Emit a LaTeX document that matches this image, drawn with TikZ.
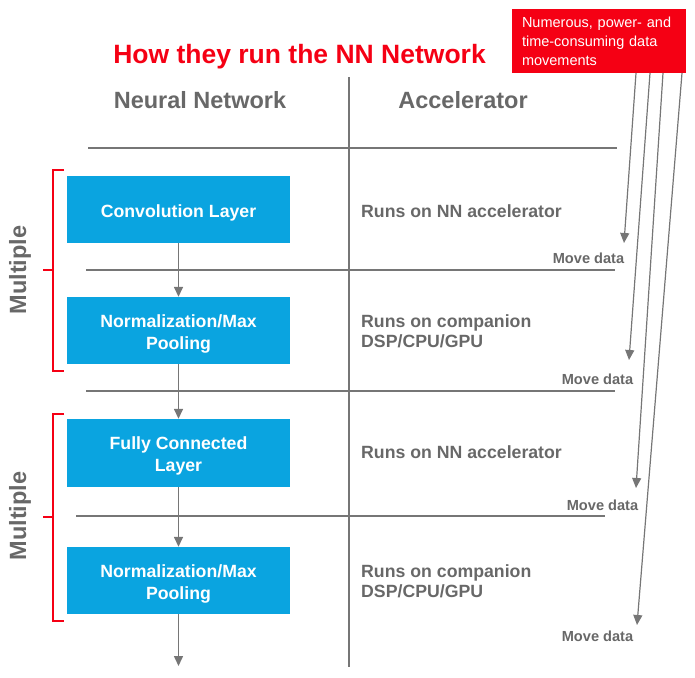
\documentclass[tikz,border=0pt]{standalone}
\usepackage{fontspec}
\setmainfont{Liberation Sans}
\usetikzlibrary{arrows.meta}
\definecolor{nnblue}{RGB}{10,164,224}
\definecolor{nnred}{RGB}{245,0,20}
\definecolor{nngray}{RGB}{104,104,104}
\definecolor{linegray}{RGB}{118,118,118}
\begin{document}
\begin{tikzpicture}[x=1pt,y=-1pt,
  layerbox/.style={fill=nnblue, minimum width=223pt, minimum height=67pt, inner sep=0pt},
  boxtext/.style={inner sep=0pt, text=white, font=\fontsize{17.7}{22}\selectfont\bfseries, align=center},
  runtext/.style={anchor=west, inner sep=0pt, text=nngray,
    font=\fontsize{17.7}{20}\selectfont\bfseries, align=left},
  head/.style={inner sep=0pt, text=nngray, font=\fontsize{23.5}{28}\selectfont\bfseries},
  movetext/.style={inner sep=0pt, text=nngray, font=\fontsize{14.6}{17}\selectfont\bfseries},
  multtext/.style={inner sep=0pt, text=nngray, rotate=90, font=\fontsize{23.5}{28}\selectfont\bfseries},
  sep/.style={draw=linegray, line width=1.5pt},
  flow/.style={draw=linegray, line width=1.5pt, -{Triangle[length=10pt,width=9pt]}},
  datamove/.style={draw=linegray, line width=1.2pt, -{Triangle[length=10pt,width=9pt]}},
  brack/.style={draw=nnred, line width=1.4pt}
]
\useasboundingbox (0,0) rectangle (695,677);

% title and note
\node[inner sep=0pt, text=nnred, font=\fontsize{26.5}{32}\selectfont\bfseries] (title) at (299.5,57) {How they run the NN Network};
\node[fill=nnred, minimum width=174pt, minimum height=64pt, text width=154pt, inner xsep=10pt, inner ysep=0pt,
  align=left, text=white, font=\fontsize{14.5}{19}\selectfont] (note) at (599,41)
  {Numerous, power- and\\time-consuming data\\movements};

% column heads
\node[head] (hnn) at (200,100) {Neural Network};
\node[head] (hacc) at (463,100) {Accelerator};

% separators
\draw[sep] (349,77) -- (349,667);
\draw[sep] (88,148) -- (617,148);
\draw[sep] (86,270) -- (615,270);
\draw[sep] (86,391) -- (615,391);
\draw[sep] (76,516) -- (605,516);

% layer boxes
\node[layerbox] (b1) at (178.5,209.5) {};
\node[layerbox] (b2) at (178.5,330.5) {};
\node[layerbox, minimum height=68pt] (b3) at (178.5,453) {};
\node[layerbox] (b4) at (178.5,580.5) {};
\node[boxtext] (t1) at ([yshift=-3pt]b1.center) {Convolution Layer};
\node[boxtext] (t2) at ([yshift=-3pt]b2.center) {Normalization/Max\\Pooling};
\node[boxtext] (t3) at ([yshift=-3pt]b3.center) {Fully Connected\\Layer};
\node[boxtext] (t4) at ([yshift=-3pt]b4.center) {Normalization/Max\\Pooling};
\coordinate (bend) at (178.5,666);

\draw[flow] (b1.south) -- (b2.north);
\draw[flow] (b2.south) -- (b3.north);
\draw[flow] (b3.south) -- (b4.north);
\draw[flow] (b4.south) -- (bend);

% accelerator texts
\node[runtext] (r1) at (361,211) {Runs on NN accelerator};
\node[runtext] (r2) at (361,331) {Runs on companion\\DSP/CPU/GPU};
\node[runtext] (r3) at (361,452) {Runs on NN accelerator};
\node[runtext] (r4) at (361,581) {Runs on companion\\DSP/CPU/GPU};

% move data labels
\node[movetext] (m1) at (588.5,258) {Move data};
\node[movetext] (m2) at (597.5,379) {Move data};
\node[movetext] (m3) at (602.5,505) {Move data};
\node[movetext] (m4) at (597.5,636) {Move data};

% data movement arrows
\coordinate (s1) at (636,73);
\coordinate (s2) at (650,73);
\coordinate (s3) at (663,73);
\coordinate (s4) at (682,73);
\coordinate (e1) at (624,243);
\coordinate (e2) at (629,360);
\coordinate (e3) at (636,488);
\coordinate (e4) at (637,625);
\draw[datamove] (s1) -- (e1);
\draw[datamove] (s2) -- (e2);
\draw[datamove] (s3) -- (e3);
\draw[datamove] (s4) -- (e4);

% brackets
\draw[brack] (64,170) -- (53,170) -- (53,371) -- (64,371);
\draw[brack] (43,270) -- (53,270);
\draw[brack] (64,414) -- (53,414) -- (53,621) -- (64,621);
\draw[brack] (43,517) -- (53,517);
\node[multtext] (mu1) at (20,270) {Multiple};
\node[multtext] (mu2) at (20,516) {Multiple};
\end{tikzpicture}
\end{document}
